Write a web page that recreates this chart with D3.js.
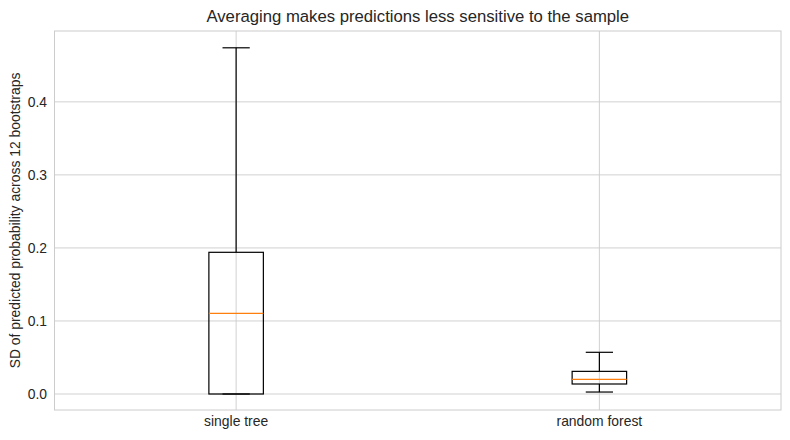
<!DOCTYPE html>
<html>
<head>
<meta charset="utf-8">
<script src="https://cdn.jsdelivr.net/npm/d3@7"></script>
<style>
  body { margin: 0; background: #fff; }
  text { font-family: "Liberation Sans", Arial, sans-serif; fill: #262626; }
</style>
</head>
<body>
<script>
// box statistics
var categories = ["single tree", "random forest"];
var whiskerLow = [0.0, 0.0027];
var q1 = [0.0, 0.0137];
var medians = [0.1105, 0.0201];
var q3 = [0.194, 0.031];
var whiskerHigh = [0.474, 0.0571];
var yTicks = [0.0, 0.1, 0.2, 0.3, 0.4];

function init(){
    var width = 790, height = 440;
    var margin = {left: 54.5, right: 9, top: 31, bottom: 30};

    var svg = d3.select("body").append("svg")
        .attr("width", width)
        .attr("height", height);

    var x = d3.scaleLinear()
        .domain([0.5, 2.5])
        .range([margin.left, width - margin.right]);

    var y = d3.scaleLinear()
        .domain([-0.0219, 0.497])
        .range([height - margin.bottom, margin.top]);

    var boxW = x(0.075) - x(0);
    var capW = x(0.0375) - x(0);

    // grid
    svg.append("g").selectAll("line").data(yTicks).enter().append("line")
        .attr("x1", x.range()[0]).attr("x2", x.range()[1])
        .attr("y1", function(d){ return y(d); })
        .attr("y2", function(d){ return y(d); })
        .attr("stroke", "#cccccc").attr("stroke-width", 0.9);

    svg.append("g").selectAll("line").data(categories).enter().append("line")
        .attr("x1", function(d, i){ return x(i + 1); })
        .attr("x2", function(d, i){ return x(i + 1); })
        .attr("y1", y.range()[0]).attr("y2", y.range()[1])
        .attr("stroke", "#cccccc").attr("stroke-width", 0.9);

    // frame
    svg.append("rect")
        .attr("x", x.range()[0]).attr("y", y.range()[1])
        .attr("width", x.range()[1] - x.range()[0])
        .attr("height", y.range()[0] - y.range()[1])
        .attr("fill", "none").attr("stroke", "#cccccc").attr("stroke-width", 1);

    // y tick labels
    svg.append("g").selectAll("text").data(yTicks).enter().append("text")
        .attr("x", x.range()[0] - 7.5)
        .attr("y", function(d){ return y(d); })
        .attr("dy", "0.35em")
        .attr("text-anchor", "end")
        .style("font-size", "13.9px")
        .text(function(d){ return d3.format(".1f")(d); });

    // x tick labels
    svg.append("g").selectAll("text").data(categories).enter().append("text")
        .attr("x", function(d, i){ return x(i + 1); })
        .attr("y", y.range()[0] + 16)
        .attr("text-anchor", "middle")
        .style("font-size", "13.9px")
        .text(function(d){ return d; });

    // boxes
    var boxes = svg.append("g").selectAll("g").data(categories).enter().append("g");

    boxes.append("line")
        .attr("x1", function(d, i){ return x(i + 1); })
        .attr("x2", function(d, i){ return x(i + 1); })
        .attr("y1", function(d, i){ return y(q3[i]); })
        .attr("y2", function(d, i){ return y(whiskerHigh[i]); })
        .attr("stroke", "#000").attr("stroke-width", 1.2);

    boxes.append("line")
        .attr("x1", function(d, i){ return x(i + 1); })
        .attr("x2", function(d, i){ return x(i + 1); })
        .attr("y1", function(d, i){ return y(q1[i]); })
        .attr("y2", function(d, i){ return y(whiskerLow[i]); })
        .attr("stroke", "#000").attr("stroke-width", 1.2);

    boxes.append("line")
        .attr("x1", function(d, i){ return x(i + 1) - capW; })
        .attr("x2", function(d, i){ return x(i + 1) + capW; })
        .attr("y1", function(d, i){ return y(whiskerHigh[i]); })
        .attr("y2", function(d, i){ return y(whiskerHigh[i]); })
        .attr("stroke", "#000").attr("stroke-width", 1.2);

    boxes.append("line")
        .attr("x1", function(d, i){ return x(i + 1) - capW; })
        .attr("x2", function(d, i){ return x(i + 1) + capW; })
        .attr("y1", function(d, i){ return y(whiskerLow[i]); })
        .attr("y2", function(d, i){ return y(whiskerLow[i]); })
        .attr("stroke", "#000").attr("stroke-width", 1.2);

    boxes.append("rect")
        .attr("x", function(d, i){ return x(i + 1) - boxW; })
        .attr("width", 2 * boxW)
        .attr("y", function(d, i){ return y(q3[i]); })
        .attr("height", function(d, i){ return y(q1[i]) - y(q3[i]); })
        .attr("fill", "none").attr("stroke", "#000").attr("stroke-width", 1.2);

    boxes.append("line")
        .attr("x1", function(d, i){ return x(i + 1) - boxW; })
        .attr("x2", function(d, i){ return x(i + 1) + boxW; })
        .attr("y1", function(d, i){ return y(medians[i]); })
        .attr("y2", function(d, i){ return y(medians[i]); })
        .attr("stroke", "#ff7f0e").attr("stroke-width", 1.2);

    // title and axis label
    svg.append("text")
        .attr("x", (x.range()[0] + x.range()[1]) / 2)
        .attr("y", 22)
        .attr("text-anchor", "middle")
        .style("font-size", "16.7px")
        .text("Averaging makes predictions less sensitive to the sample");

    svg.append("text")
        .attr("transform", "translate(20," + ((y.range()[0] + y.range()[1]) / 2) + ") rotate(-90)")
        .attr("text-anchor", "middle")
        .style("font-size", "13.9px")
        .text("SD of predicted probability across 12 bootstraps");
}

window.onload = init;
</script>
</body>
</html>
